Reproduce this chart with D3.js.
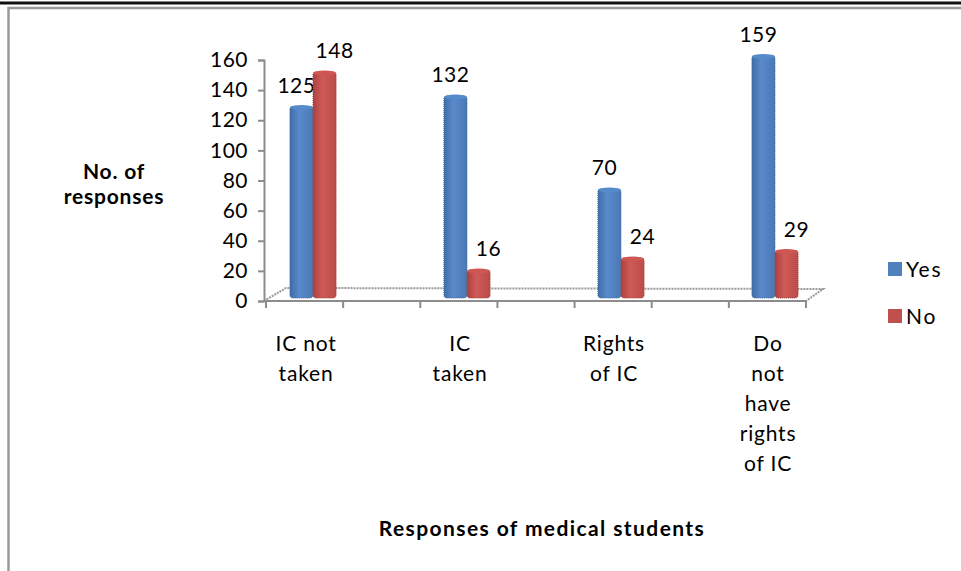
<!DOCTYPE html>
<html lang="en">
<head>
    <meta charset="UTF-8">
    <title>Responses of medical students</title>
    <script src="https://cdn.jsdelivr.net/npm/d3@7"></script>
    <style>
        body { margin: 0; background: #fff; }
        text { font-family: Lato, "Liberation Sans", Arial, sans-serif; fill: #000; }
    </style>
</head>
<body>
    <div id="chart-space"></div>

    <script>
        // data
        var categories = ["IC not taken", "IC taken", "Rights of IC", "Do not have rights of IC"];
        var categoryLines = [["IC not", "taken"], ["IC", "taken"], ["Rights", "of IC"], ["Do", "not", "have", "rights", "of IC"]];
        var seriesNames = ["Yes", "No"];
        var yesValues = [125, 132, 70, 159];
        var noValues = [148, 16, 24, 29];
        var yTicks = [0, 20, 40, 60, 80, 100, 120, 140, 160];
        var colors = {Yes: "#4F81BD", No: "#C0504D"};

        var width = 961;
        var height = 571;
        var fontSize = 21;

        // floor / perspective depth
        var depthX = 19, depthY = -12;

        var svg = d3.select("#chart-space")
            .append("svg")
            .attr("width", width)
            .attr("height", height);

        // frame
        svg.append("line").attr("x1", 0).attr("x2", width).attr("y1", 3).attr("y2", 3)
            .attr("stroke", "#111").attr("stroke-width", 3);
        svg.append("rect").attr("x", 8.5).attr("y", 8).attr("width", 1000).attr("height", 600)
            .attr("fill", "none").attr("stroke", "#999").attr("stroke-width", 2.5);

        // scales
        var yScale = d3.scaleLinear().domain([0, 160]).range([301, 60]);
        var barY = d3.scaleLinear().domain([0, 160]).range([292, 52]);

        var xScale = d3.scaleBand()
            .domain(categories)
            .range([236, 852])
            .paddingInner(0.7)
            .paddingOuter(0.35);

        var xSub = d3.scaleBand().domain(seriesNames).range([0, xScale.bandwidth()]);

        // gradients for cylinder look
        var defs = svg.append("defs");
        function grad(id, dark, mid, light) {
            var g = defs.append("linearGradient").attr("id", id)
                .attr("x1", "0%").attr("x2", "100%").attr("y1", "0%").attr("y2", "0%");
            g.append("stop").attr("offset", "0%").attr("stop-color", dark);
            g.append("stop").attr("offset", "40%").attr("stop-color", light);
            g.append("stop").attr("offset", "100%").attr("stop-color", mid);
        }
        grad("gYes", "#3f6ca8", "#4a78b4", "#5a8acb");
        grad("gNo", "#ab413e", "#b94c49", "#cf5b58");

        // floor
        var floorLeft = 264, floorRight = 806, floorY = 301;
        var floor = svg.append("g");
        floor.append("path")
            .attr("d", "M" + floorLeft + "," + floorY + "L" + (floorLeft + depthX + 3) + "," + (floorY + depthY - 1) +
                "L" + (floorRight + depthX - 2) + "," + (floorY + depthY) + "L" + floorRight + "," + floorY)
            .attr("fill", "none").attr("stroke", "#999").attr("stroke-width", 2)
            .attr("stroke-dasharray", "2,1");

        // bars
        var rows = categories.map(function(c, i) {
            return {cat: c, Yes: yesValues[i], No: noValues[i]};
        });
        var groups = svg.selectAll("g.grp")
            .data(rows)
            .join("g")
            .attr("class", "grp")
            .attr("transform", function(d) { return "translate(" + xScale(d.cat) + ",0)"; });

        var bars = groups.selectAll("g.bar")
            .data(function(d) { return seriesNames.map(function(s) { return {key: s, value: d[s]}; }); })
            .join("g")
            .attr("class", "bar");

        var barBottom = 298;
        bars.append("rect")
            .attr("x", function(d) { return xSub(d.key); })
            .attr("y", function(d) { return barY(d.value) + 2; })
            .attr("width", xSub.bandwidth())
            .attr("height", function(d) { return barBottom - barY(d.value) - 2; })
            .attr("rx", 3)
            .attr("fill", function(d) { return "url(#g" + d.key + ")"; })
            .attr("stroke", function(d) { return d3.color(colors[d.key]).darker(0.4); })
            .attr("stroke-width", 1)
            .attr("stroke-dasharray", "1,1");
        bars.append("ellipse")
            .attr("cx", function(d) { return xSub(d.key) + xSub.bandwidth() / 2; })
            .attr("cy", function(d) { return barY(d.value) + 3; })
            .attr("rx", xSub.bandwidth() / 2)
            .attr("ry", 2.5)
            .attr("fill", function(d) { return d3.color(colors[d.key]).brighter(0.2); });

        // value labels
        bars.append("text")
            .attr("x", function(d) { return xSub(d.key) + xSub.bandwidth() / 2 + (d.key === "Yes" ? -5 : 10); })
            .attr("y", function(d) { return barY(d.value) - 12; })
            .attr("text-anchor", "middle")
            .attr("font-size", fontSize)
            .attr("letter-spacing", 0.5)
            .text(function(d) { return d.value; });

        // front floor edge (drawn over bar bottoms)
        svg.append("line").attr("x1", floorLeft).attr("x2", floorRight)
            .attr("y1", floorY).attr("y2", floorY)
            .attr("stroke", "#8c8c8c").attr("stroke-width", 2);
        var xTickScale = d3.scaleLinear().domain([0, 7]).range([floorLeft + 2, floorRight]);
        svg.selectAll("line.xtick")
            .data(d3.range(8))
            .join("line")
            .attr("class", "xtick")
            .attr("x1", function(d) { return xTickScale(d); })
            .attr("x2", function(d) { return xTickScale(d); })
            .attr("y1", floorY).attr("y2", floorY + 7)
            .attr("stroke", "#8c8c8c").attr("stroke-width", 2);

        // y axis
        var yAxis = svg.append("g")
            .attr("transform", "translate(" + floorLeft + ",0)")
            .call(d3.axisLeft(yScale).tickValues(yTicks).tickSize(6).tickPadding(10));
        yAxis.select(".domain").attr("stroke", "#8c8c8c").attr("stroke-width", 2);
        yAxis.selectAll(".tick line").attr("stroke", "#8c8c8c").attr("stroke-width", 2);
        yAxis.selectAll(".tick text")
            .attr("font-size", fontSize)
            .attr("font-family", "Lato, Liberation Sans, Arial, sans-serif")
            .attr("letter-spacing", 0.5)
            .attr("fill", "#000");

        // category labels
        var catLabels = svg.selectAll("text.cat")
            .data(categories)
            .join("text")
            .attr("class", "cat")
            .attr("text-anchor", "middle")
            .attr("font-size", fontSize)
            .attr("letter-spacing", 0.8)
            .attr("transform", function(d) { return "translate(" + (xScale(d) + xScale.bandwidth() / 2 - 7) + ",351)"; });
        catLabels.selectAll("tspan")
            .data(function(d, i) { return categoryLines[i]; })
            .join("tspan")
            .attr("x", 0)
            .attr("y", function(d, i) { return i * 30; })
            .text(function(d) { return d; });

        // axis titles
        var yTitle = svg.append("text")
            .attr("x", 114).attr("y", 179)
            .attr("text-anchor", "middle")
            .attr("font-size", fontSize)
            .attr("font-weight", "bold")
            .attr("letter-spacing", 0.8);
        yTitle.append("tspan").attr("x", 114).attr("dy", 0).text("No. of");
        yTitle.append("tspan").attr("x", 114).attr("dy", 25).text("responses");

        svg.append("text")
            .attr("x", 542).attr("y", 536)
            .attr("text-anchor", "middle")
            .attr("font-size", fontSize)
            .attr("font-weight", "bold")
            .attr("letter-spacing", 1.4)
            .text("Responses of medical students");

        // legend
        var legend = svg.selectAll("g.legend")
            .data(seriesNames)
            .join("g")
            .attr("class", "legend")
            .attr("transform", function(d, i) { return "translate(888," + (262 + i * 47) + ")"; });
        legend.append("rect")
            .attr("width", 14).attr("height", 14)
            .attr("fill", function(d) { return colors[d]; });
        legend.append("text")
            .attr("x", 18).attr("y", 15)
            .attr("font-size", fontSize)
            .attr("letter-spacing", 1.8)
            .text(function(d) { return d; });
    </script>
</body>
</html>
